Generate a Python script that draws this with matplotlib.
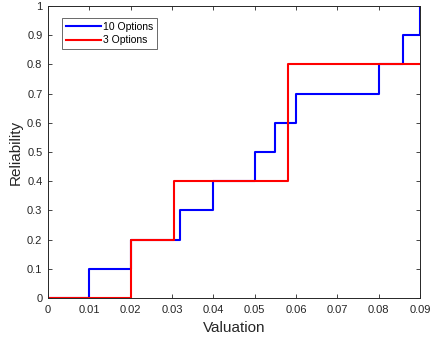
import matplotlib
matplotlib.use("Agg")
import matplotlib.pyplot as plt

plt.rcParams['font.family'] = ['Liberation Sans', 'DejaVu Sans']

blue_x = [0, 0.01, 0.02, 0.032, 0.04, 0.05, 0.055, 0.06, 0.08, 0.086, 0.09]
blue_y = [0, 0.1, 0.2, 0.3, 0.4, 0.5, 0.6, 0.7, 0.8, 0.9, 1.0]
red_x = [0, 0.02, 0.0305, 0.058, 0.09]
red_y = [0, 0.2, 0.4, 0.8, 0.8]
xticks = [0, 0.01, 0.02, 0.03, 0.04, 0.05, 0.06, 0.07, 0.08, 0.09]
xticklabels = ['0', '0.01', '0.02', '0.03', '0.04', '0.05', '0.06', '0.07', '0.08', '0.09']
yticks = [0, 0.1, 0.2, 0.3, 0.4, 0.5, 0.6, 0.7, 0.8, 0.9, 1]
yticklabels = ['0', '0.1', '0.2', '0.3', '0.4', '0.5', '0.6', '0.7', '0.8', '0.9', '1']

fig = plt.figure(figsize=(4.3, 3.43), dpi=100)
ax = fig.add_axes([48/430, 45/343, 372/430, 292/343])
ax.step(blue_x, blue_y, where='post', color='#0000ff', lw=1.5, label='10 Options')
ax.step(red_x, red_y, where='post', color='#ff0000', lw=1.5, label='3 Options')
ax.set_xlim(0, 0.09)
ax.set_ylim(0, 1)
ax.set_xticks(xticks)
ax.set_xticklabels(xticklabels)
ax.set_yticks(yticks)
ax.set_yticklabels(yticklabels)
ax.tick_params(direction='in', top=True, right=True, labelsize=8, colors='#262626', labelcolor='#262626', length=3, width=0.6)
ax.tick_params(axis='x', pad=5)
ax.tick_params(axis='y', pad=4)
for s in ax.spines.values():
    s.set_color('#262626')
    s.set_linewidth(0.7)
ax.set_xlabel('Valuation', fontsize=11, color='#262626', labelpad=4)
ax.set_ylabel('Reliability', fontsize=11, color='#262626', labelpad=3)
leg = ax.legend(loc='upper left', fontsize=7.5, frameon=True, fancybox=False, edgecolor='#262626',
                handlelength=3.4, handletextpad=0.2, borderpad=0.35, labelspacing=0.35,
                borderaxespad=0, bbox_to_anchor=(0.038, 0.959))
leg.get_frame().set_linewidth(0.6)
fig.savefig('out.png', dpi=100)
